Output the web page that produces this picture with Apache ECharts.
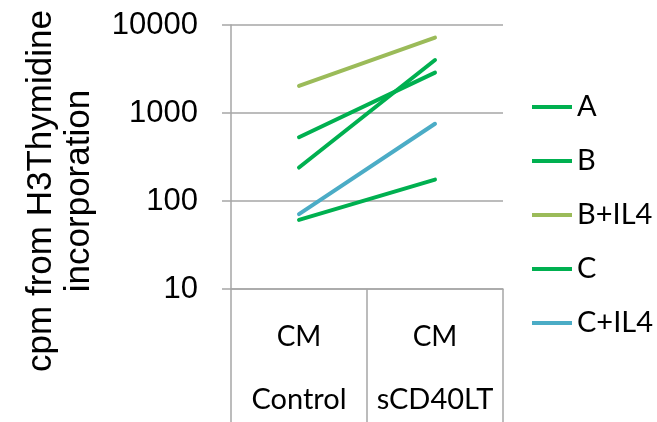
<!DOCTYPE html>
<html>
<head>
<meta charset="utf-8">
<script src="https://cdn.jsdelivr.net/npm/echarts@6/dist/echarts.min.js"></script>
<style>
html,body{margin:0;padding:0;background:#fff;}
#chart{width:657px;height:422px;}
</style>
</head>
<body>
<div id="chart"></div>
<script>
var categoriesTop = ['CM', 'CM'];
var categoriesBottom = ['Control', 'sCD40LT'];
var seriesNames = ['A', 'B', 'B+IL4', 'C', 'C+IL4'];
var valuesA = [240, 4000];
var valuesB = [530, 2880];
var valuesBIL4 = [2030, 7200];
var valuesC = [61, 175];
var valuesCIL4 = [71, 755];
var yTicks = [10, 100, 1000, 10000];

var colors = ['#00b050', '#00b050', '#9bbb59', '#00b050', '#4bacc6'];
var allValues = [valuesA, valuesB, valuesBIL4, valuesC, valuesCIL4];
var gridColor = '#a6a6a6';
var catFont = 'Lato';
var numFont = 'Liberation Sans';

var chart = echarts.init(document.getElementById('chart'), null, {renderer: 'canvas'});
var option = {
  animation: false,
  backgroundColor: '#ffffff',
  color: colors,
  grid: {left: 231, right: 154, top: 25, bottom: 133, containLabel: false},
  legend: {
    orient: 'vertical',
    left: 532,
    top: 92,
    padding: 0,
    icon: 'rect',
    itemWidth: 40,
    itemHeight: 4,
    itemGap: 24,
    textStyle: {fontFamily: catFont, fontSize: 29, color: '#000', lineHeight: 30},
    data: seriesNames
  },
  xAxis: {
    type: 'category',
    data: categoriesBottom.map(function (c, i) { return i; }),
    boundaryGap: true,
    axisLine: {show: true, lineStyle: {color: gridColor, width: 1.5}},
    axisTick: {show: true, interval: 0, length: 133, lineStyle: {color: gridColor, width: 1.5}},
    axisLabel: {
      interval: 0,
      margin: 16,
      formatter: function (v, i) {
        return '{a|' + categoriesTop[i] + '}\n{b|' + categoriesBottom[i] + '}';
      },
      rich: {
        a: {fontFamily: catFont, fontSize: 28, color: '#000', lineHeight: 63},
        b: {fontFamily: catFont, fontSize: 29, color: '#000', lineHeight: 63}
      }
    },
    splitLine: {show: false}
  },
  yAxis: {
    type: 'log',
    logBase: 10,
    min: yTicks[0],
    max: yTicks[yTicks.length - 1],
    splitNumber: 3,
    axisLine: {show: true, lineStyle: {color: gridColor, width: 1.5}},
    axisTick: {show: true, length: 9, lineStyle: {color: gridColor, width: 1.5}},
    axisLabel: {
      margin: 33,
      fontFamily: numFont,
      fontSize: 31,
      color: '#000',
      formatter: function (v) { return String(Math.round(v)); }
    },
    splitLine: {show: true, lineStyle: {color: gridColor, width: 1.5}}
  },
  graphic: [{
    type: 'text',
    x: 60,
    y: 191,
    rotation: Math.PI / 2,
    style: {
      text: 'cpm from H3Thymidine\nincorporation',
      fontFamily: numFont,
      fontSize: 35,
      lineHeight: 38,
      fill: '#000',
      align: 'center',
      verticalAlign: 'middle'
    }
  }],
  series: seriesNames.map(function (name, k) {
    return {
      name: name,
      type: 'line',
      data: allValues[k],
      symbol: 'none',
      lineStyle: {width: 4, color: colors[k], cap: 'round'},
      itemStyle: {color: colors[k]},
      z: 3
    };
  })
};
chart.setOption(option);
</script>
</body>
</html>
